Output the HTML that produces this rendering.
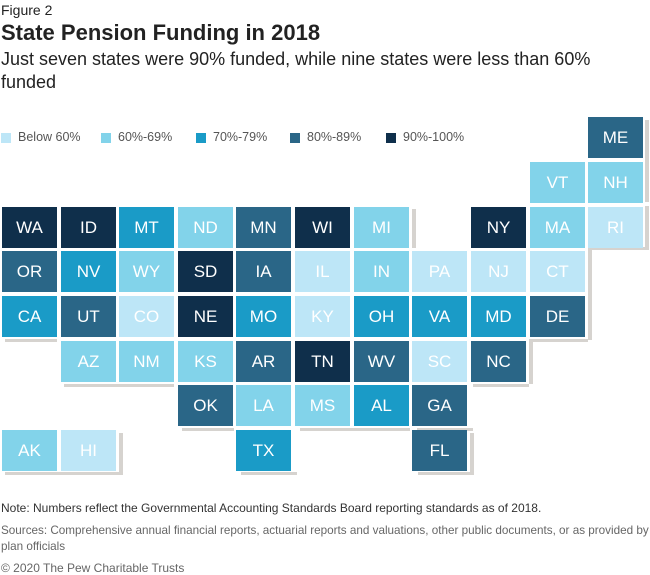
<!DOCTYPE html>
<html><head><meta charset="utf-8">
<style>
*{margin:0;padding:0;box-sizing:border-box}
body{width:650px;height:575px;background:#fff;position:relative;overflow:hidden;font-family:"Liberation Sans",sans-serif;color:#222}
.t{position:absolute;white-space:nowrap}
.s{position:absolute;width:55px;height:41px;color:#fff;font-size:17px;display:flex;align-items:center;justify-content:center}
.a{background:#bde6f7}.b{background:#82d3ea}.c{background:#1a9bc7}.d{background:#2a6687}.e{background:#0f2f4b}
.lg{position:absolute;top:133px;width:10px;height:10px}
.lt{position:absolute;top:130px;font-size:12.5px;color:#555}
.sh{position:absolute;background:#d6d3cf}
</style></head><body>
<div class="t" style="left:1px;top:2px;font-size:14px">Figure 2</div>
<div class="t" style="left:1px;top:20px;font-size:22px;font-weight:bold">State Pension Funding in 2018</div>
<div class="t" style="left:1px;top:48px;font-size:18px;line-height:23px;white-space:normal;width:640px">Just seven states were 90% funded, while nine states were less than 60% funded</div>

<div class="lg a" style="left:1px"></div><div class="lt" style="left:18px">Below 60%</div>
<div class="lg b" style="left:101px"></div><div class="lt" style="left:118px">60%-69%</div>
<div class="lg c" style="left:196px"></div><div class="lt" style="left:213px">70%-79%</div>
<div class="lg d" style="left:290px"></div><div class="lt" style="left:307px">80%-89%</div>
<div class="lg e" style="left:386px"></div><div class="lt" style="left:403px">90%-100%</div>

<div class="sh" style="left:645px;top:120px;width:4px;height:82px"></div>
<div class="sh" style="left:412px;top:209px;width:4px;height:39px"></div>
<div class="sh" style="left:645px;top:206px;width:4px;height:42px"></div>
<div class="sh" style="left:592px;top:247px;width:57px;height:3px"></div>
<div class="sh" style="left:588px;top:247px;width:4px;height:93px"></div>
<div class="sh" style="left:5px;top:339px;width:52px;height:3px"></div>
<div class="sh" style="left:64px;top:384px;width:110px;height:3px"></div>
<div class="sh" style="left:529px;top:339px;width:59px;height:3px"></div>
<div class="sh" style="left:529px;top:339px;width:4px;height:45px"></div>
<div class="sh" style="left:473px;top:384px;width:56px;height:3px"></div>
<div class="sh" style="left:182px;top:428px;width:52px;height:3px"></div>
<div class="sh" style="left:300px;top:428px;width:110px;height:3px"></div>
<div class="sh" style="left:417px;top:428px;width:56px;height:3px"></div>
<div class="sh" style="left:5px;top:472px;width:118px;height:3px"></div>
<div class="sh" style="left:119px;top:433px;width:4px;height:42px"></div>
<div class="sh" style="left:241px;top:472px;width:56px;height:3px"></div>
<div class="sh" style="left:418px;top:472px;width:56px;height:3px"></div>
<div class="sh" style="left:470px;top:433px;width:4px;height:42px"></div>

<div class="s d" style="left:588px;top:117px">ME</div>
<div class="s b" style="left:530px;top:162px">VT</div>
<div class="s b" style="left:588px;top:162px">NH</div>

<div class="s e" style="left:2px;top:207px">WA</div>
<div class="s e" style="left:61px;top:207px">ID</div>
<div class="s c" style="left:119px;top:207px">MT</div>
<div class="s b" style="left:178px;top:207px">ND</div>
<div class="s d" style="left:236px;top:207px">MN</div>
<div class="s e" style="left:295px;top:207px">WI</div>
<div class="s b" style="left:354px;top:207px">MI</div>
<div class="s e" style="left:471px;top:207px">NY</div>
<div class="s b" style="left:530px;top:207px">MA</div>
<div class="s a" style="left:588px;top:207px">RI</div>

<div class="s d" style="left:2px;top:251px">OR</div>
<div class="s c" style="left:61px;top:251px">NV</div>
<div class="s b" style="left:119px;top:251px">WY</div>
<div class="s e" style="left:178px;top:251px">SD</div>
<div class="s d" style="left:236px;top:251px">IA</div>
<div class="s a" style="left:295px;top:251px">IL</div>
<div class="s b" style="left:354px;top:251px">IN</div>
<div class="s a" style="left:412px;top:251px">PA</div>
<div class="s a" style="left:471px;top:251px">NJ</div>
<div class="s a" style="left:530px;top:251px">CT</div>

<div class="s c" style="left:2px;top:296px">CA</div>
<div class="s d" style="left:61px;top:296px">UT</div>
<div class="s a" style="left:119px;top:296px">CO</div>
<div class="s e" style="left:178px;top:296px">NE</div>
<div class="s c" style="left:236px;top:296px">MO</div>
<div class="s a" style="left:295px;top:296px">KY</div>
<div class="s c" style="left:354px;top:296px">OH</div>
<div class="s c" style="left:412px;top:296px">VA</div>
<div class="s c" style="left:471px;top:296px">MD</div>
<div class="s d" style="left:530px;top:296px">DE</div>

<div class="s b" style="left:61px;top:341px">AZ</div>
<div class="s b" style="left:119px;top:341px">NM</div>
<div class="s b" style="left:178px;top:341px">KS</div>
<div class="s d" style="left:236px;top:341px">AR</div>
<div class="s e" style="left:295px;top:341px">TN</div>
<div class="s d" style="left:354px;top:341px">WV</div>
<div class="s a" style="left:412px;top:341px">SC</div>
<div class="s d" style="left:471px;top:341px">NC</div>

<div class="s d" style="left:178px;top:385px">OK</div>
<div class="s b" style="left:236px;top:385px">LA</div>
<div class="s b" style="left:295px;top:385px">MS</div>
<div class="s c" style="left:354px;top:385px">AL</div>
<div class="s d" style="left:412px;top:385px">GA</div>

<div class="s b" style="left:2px;top:430px">AK</div>
<div class="s a" style="left:61px;top:430px">HI</div>
<div class="s c" style="left:236px;top:430px">TX</div>
<div class="s d" style="left:412px;top:430px">FL</div>

<div class="t" style="left:1px;top:501px;font-size:12px;color:#333">Note: Numbers reflect the Governmental Accounting Standards Board reporting standards as of 2018.</div>
<div class="t" style="left:1px;top:523px;font-size:11.7px;color:#666;line-height:16px">Sources: Comprehensive annual financial reports, actuarial reports and valuations, other public documents, or as provided by<br>plan officials</div>
<div class="t" style="left:1px;top:561px;font-size:12px;color:#666">© 2020 The Pew Charitable Trusts</div>
</body></html>
